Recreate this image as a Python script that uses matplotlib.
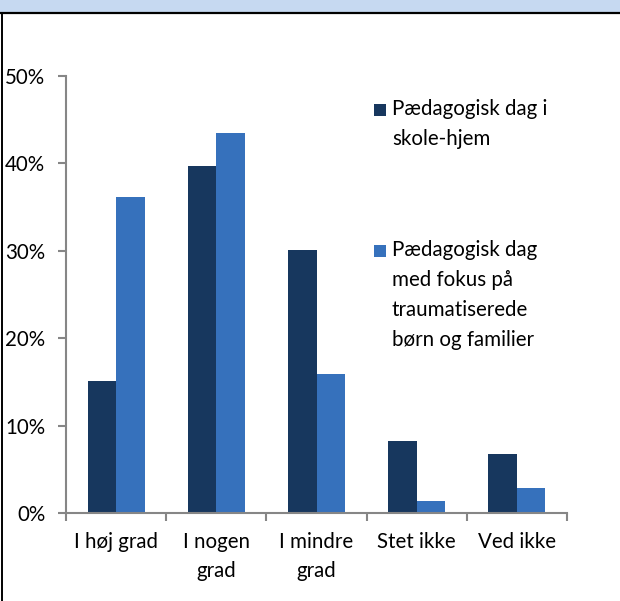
import matplotlib.pyplot as plt
import numpy as np
from matplotlib.patches import Rectangle

categories = ['I høj grad', 'I nogen\ngrad', 'I mindre\ngrad', 'Stet ikke', 'Ved ikke']
skole_hjem = [15.1, 39.7, 30.1, 8.2, 6.75]
traume = [36.2, 43.5, 15.9, 1.4, 2.9]
series_labels = ['Pædagogisk dag i\nskole-hjem',
                 'Pædagogisk dag\nmed fokus på\ntraumatiserede\nbørn og familier']
colors = ['#17375E', '#3671BC']
yticks = [0, 10, 20, 30, 40, 50]

plt.rcParams['font.family'] = ['Lato', 'DejaVu Sans']
FS = 14.8

W, H = 620, 601
fig = plt.figure(figsize=(W / 100, H / 100), dpi=100)

# frame: light blue band on top, black rule, left border
fig.patches.append(Rectangle((0, 1 - 12 / H), 1, 12 / H, transform=fig.transFigure,
                             facecolor='#C6D9F1', edgecolor='none', zorder=0))
fig.add_artist(plt.Line2D([0, 1], [1 - 12.5 / H] * 2, color='black', lw=1.6))
fig.add_artist(plt.Line2D([1.5 / W] * 2, [0, 1 - 12.5 / H], color='black', lw=1.4))

ax = fig.add_axes([66 / W, 88 / H, 501 / W, 437 / H])
x = np.arange(len(categories))
bw = 0.285
ax.bar(x - bw / 2, skole_hjem, bw, color=colors[0], zorder=2)
ax.bar(x + bw / 2, traume, bw, color=colors[1], zorder=2)

ax.set_xlim(-0.5, len(categories) - 0.5)
ax.set_ylim(0, 50)
ax.set_yticks(yticks)
ax.set_yticklabels([f'{v}%' for v in yticks], fontsize=FS)

# category boundary ticks (major), labels on minor ticks at centers
ax.set_xticks(np.arange(len(categories) + 1) - 0.5)
ax.set_xticklabels([])
ax.set_xticks(x, minor=True)
ax.set_xticklabels(categories, minor=True, fontsize=FS, linespacing=1.55)
ax.tick_params(axis='x', which='minor', length=0, pad=14)
ax.tick_params(axis='x', which='major', length=6, width=1.5, color='#868686')
ax.tick_params(axis='y', length=6, width=1.5, color='#868686', pad=9)

for s in ['top', 'right']:
    ax.spines[s].set_visible(False)
for s in ['left', 'bottom']:
    ax.spines[s].set_color('#868686')
    ax.spines[s].set_linewidth(1.5)

# legend placed like the original
legend_tops = [102, 243]
for lab, col, top in zip(series_labels, colors, legend_tops):
    fig.patches.append(Rectangle((374 / W, 1 - (top + 14) / H), 12 / W, 12 / H,
                                 transform=fig.transFigure, facecolor=col, edgecolor='none'))
    fig.text(392 / W, 1 - (top - 3) / H, lab, fontsize=FS, va='top', ha='left',
             linespacing=1.62)

fig.savefig('out.png', dpi=100)
